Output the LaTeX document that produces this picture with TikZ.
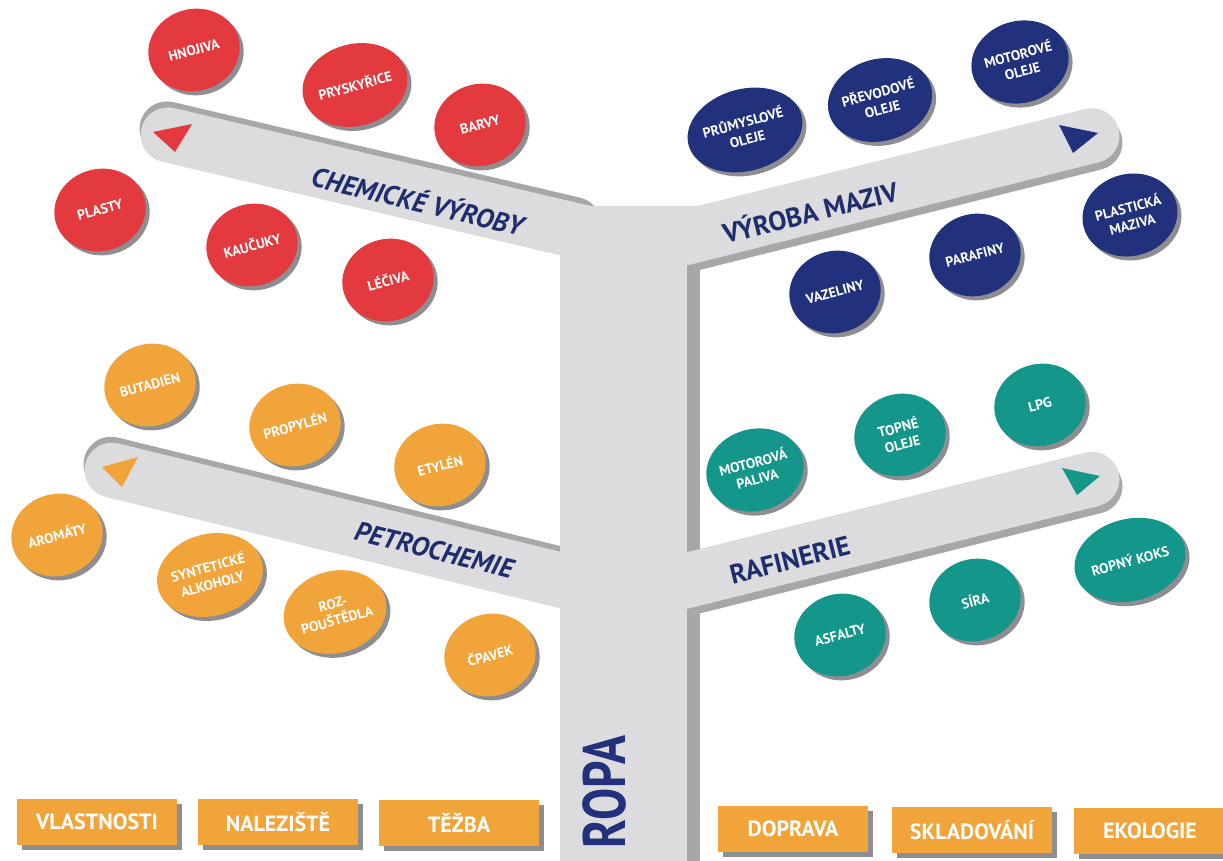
\documentclass[tikz,border=0pt]{standalone}
\usepackage{fontspec}
\setmainfont{PT Sans}
\newfontfamily\ropafont{PT Sans}[FakeStretch=0.8]
\usetikzlibrary{shapes.geometric}
\definecolor{chemred}{HTML}{E23A3E}
\definecolor{oilnavy}{HTML}{21317B}
\definecolor{petroorange}{HTML}{F0A43A}
\definecolor{refteal}{HTML}{14968A}
\definecolor{stemgray}{HTML}{DCDCDE}
\definecolor{stemshade}{HTML}{A7A7AA}
\definecolor{ballshade}{HTML}{8E8E92}
\definecolor{labelnavy}{HTML}{1F2C6E}
\begin{document}
\begin{tikzpicture}[x=1pt,y=-1pt,
        ball/.style={ellipse, minimum width=92pt, minimum height=82pt, inner sep=0pt, rotate=15, text=white, align=center,
            font=\bfseries\fontsize{14}{17}\selectfont, preaction={fill=ballshade, transform canvas={shift={(4pt,-4pt)}}}},
        chem/.style={ball, fill=chemred},
        maz/.style={ball, fill=oilnavy},
        petro/.style={ball, fill=petroorange},
        raf/.style={ball, fill=refteal},
        arm/.style={stemgray, line width=55pt, line cap=round},
        armshade/.style={stemshade, line width=55pt, line cap=round},
        armlabel/.style={text=labelnavy, font=\bfseries\fontsize{27}{27}\selectfont},
        tab/.style={fill=petroorange, minimum width=160pt, minimum height=46pt, inner sep=0pt, text=white,
            font=\bfseries\fontsize{22}{22}\selectfont, preaction={fill=ballshade, transform canvas={shift={(5pt,-5pt)}}}}]
        \useasboundingbox[fill=white] (0,0) rectangle (1223,861);

        \draw[armshade] (167,128.9) -- (574,224.5);
        \draw[armshade] (693,243.3) -- (1095,142.7);
        \draw[armshade] (111,464.2) -- (559,574);
        \draw[armshade] (693,586.8) -- (1095,486.3);
        \fill[stemshade] (620,230) rectangle (700,861);
        \fill[stemgray] (560,206) rectangle (687,861);
        \fill[stemgray] (597,206) -- (707,206) -- (652,250) -- cycle;
        \draw[arm] (168,134.9) -- (640,245.8);
        \draw[arm] (640,248.8) -- (1092,135.7);
        \draw[arm] (112,470.2) -- (640,599.6);
        \draw[arm] (640,592.3) -- (1092,479.3);

        \fill[chemred] (153,132) -- (192,124) -- (175,152) -- cycle;
        \fill[oilnavy] (1059,125) -- (1098,133) -- (1073,153) -- cycle;
        \fill[petroorange] (102,467) -- (138,457) -- (122,487) -- cycle;
        \fill[refteal] (1062,468) -- (1100,476) -- (1077,495) -- cycle;

        \node[armlabel, font=\bfseries\itshape\fontsize{27}{27}\selectfont, rotate=-13.5] (chemlbl) at (418,200) {CHEMICKÉ VÝROBY};
        \node[armlabel, rotate=14] (mazlbl) at (810,211) {VÝROBA MAZIV};
        \node[armlabel, font=\bfseries\itshape\fontsize{27}{27}\selectfont, rotate=-14] (petrolbl) at (434,550) {PETROCHEMIE};
        \node[armlabel, rotate=14] (raflbl) at (790,560) {RAFINERIE};

        \node[chem] (hnojiva) at (194,50) {HNOJIVA};
        \node[chem] (pryskyrice) at (355,85) {PRYSKYŘICE};
        \node[chem] (barvy) at (480,125) {BARVY};
        \node[chem] (plasty) at (100,210) {PLASTY};
        \node[chem] (kaucuky) at (252,245) {KAUČUKY};
        \node[chem] (leciva) at (388,280) {LÉČIVA};

        \node[maz] (prumysl) at (745,130) {PRŮMYSLOVÉ\\OLEJE};
        \node[maz] (prevod) at (880,100) {PŘEVODOVÉ\\OLEJE};
        \node[maz] (motorol) at (1020,62) {MOTOROVÉ\\OLEJE};
        \node[maz] (vazeliny) at (835,292) {VAZELINY};
        \node[maz] (parafiny) at (975,255) {PARAFINY};
        \node[maz] (plastmaz) at (1130,215) {PLASTICKÁ\\MAZIVA};

        \node[petro] (butadien) at (150,385) {BUTADIEN};
        \node[petro] (propylen) at (295,425) {PROPYLÉN};
        \node[petro] (etylen) at (440,465) {ETYLÉN};
        \node[petro] (aromaty) at (57,535) {AROMÁTY};
        \node[petro] (alkoholy) at (210,575) {SYNTETICKÉ\\ALKOHOLY};
        \node[petro] (rozpoust) at (335,612) {ROZ-\\POUŠTĚDLA};
        \node[petro] (cpavek) at (490,655) {ČPAVEK};

        \node[raf] (paliva) at (755,470) {MOTOROVÁ\\PALIVA};
        \node[raf] (topne) at (900,435) {TOPNÉ\\OLEJE};
        \node[raf] (lpg) at (1040,405) {LPG};
        \node[raf] (asfalty) at (840,635) {ASFALTY};
        \node[raf] (sira) at (975,600) {SÍRA};
        \node[raf] (koks) at (1130,560) {ROPNÝ KOKS};

        \node[tab] (vlastnosti) at (97,822) {VLASTNOSTI};
        \node[tab] (naleziste) at (278,822) {NALEZIŠTĚ};
        \node[tab] (tezba) at (459,823) {TĚŽBA};
        \node[tab, minimum width=150pt] (doprava) at (793,829) {DOPRAVA};
        \node[tab] (skladovani) at (972,830) {SKLADOVÁNÍ};
        \node[tab, minimum width=152pt] (ekologie) at (1150,831) {EKOLOGIE};

        \node[text=oilnavy, font=\ropafont\bfseries\fontsize{60}{60}\selectfont, rotate=90] (ropa) at (604,792) {ROPA};
\end{tikzpicture}
\end{document}
